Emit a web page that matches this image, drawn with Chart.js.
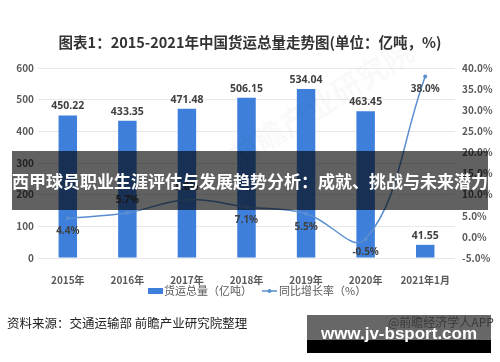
<!DOCTYPE html>
<html>
<head>
<meta charset="utf-8">
<script src="https://cdn.jsdelivr.net/npm/chart.js@4/dist/chart.umd.min.js"></script>
<style>
    html, body { margin: 0; padding: 0; background: #fff; }
    #wrap { position: relative; width: 500px; height: 362px; overflow: hidden; font-family: "Noto Sans CJK SC", "Noto Sans", sans-serif; }
    #chart { position: absolute; left: 0; top: 0; }
    .title { position: absolute; left: 0; width: 500px; top: 31px; text-align: center; font-size: 14.5px; font-weight: bold; color: #333; }
    .banner { position: absolute; left: 12px; top: 151px; width: 476px; height: 59px; background: rgba(0,0,0,0.62); }
    .banner span { position: absolute; left: 0; width: 476px; top: 18px; text-align: center; color: #fff; font-size: 17px; font-weight: bold; white-space: nowrap; line-height: 24px; }
    .source { position: absolute; left: 7px; top: 313px; font-size: 12.5px; color: #222; white-space: nowrap; }
    .wm-gray { position: absolute; left: 307px; top: 315px; width: 184px; height: 25px; background: #676767; }
    .wm-black { position: absolute; left: 307px; top: 340px; width: 184px; height: 13px; background: #000; }
    .wm-app { position: absolute; left: 388px; top: 313px; font-size: 12px; color: #3a3a3a; white-space: nowrap; }
    .wm-url { position: absolute; left: 307px; width: 184px; top: 322px; text-align: center; font-family: "Liberation Sans", sans-serif; font-size: 17px; font-weight: bold; color: #fff; white-space: nowrap; line-height: 24px; }
    .faint { position: absolute; left: 215px; top: 80px; font-size: 30px; font-weight: bold; color: rgba(0,0,0,0.025); transform: rotate(-32deg); white-space: nowrap; }
</style>
</head>
<body>
<div id="wrap">
    <canvas id="chart" width="500" height="362"></canvas>
    <div class="faint">前瞻产业研究院</div>
    <div class="title">图表1：2015-2021年中国货运总量走势图(单位：亿吨，%)</div>
    <div class="banner"><span>西甲球员职业生涯评估与发展趋势分析：成就、挑战与未来潜力</span></div>
    <div class="source">资料来源：交通运输部 前瞻产业研究院整理</div>
    <div class="wm-gray"></div>
    <div class="wm-black"></div>
    <div class="wm-app">@前瞻经济学人APP</div>
    <div class="wm-url">www.jv-bsport.com</div>
</div>
<script>
// ===== data =====
const years = ['2015年', '2016年', '2017年', '2018年', '2019年', '2020年', '2021年1月'];
const freight = [450.22, 433.35, 471.48, 506.15, 534.04, 463.45, 41.55];
const growth = [4.4, 5.7, 8.8, 7.1, 5.5, -0.5, 38.0];
const freightLabel = '货运总量（亿吨）';
const growthLabel = '同比增长率（%）';

// label side for each growth point (style only)
const growthLabelSide = ['below', 'above', 'above', 'below', 'below', 'below', 'below'];

const barColor = '#3d7fda';
const lineColor = '#5b8ed0';
const tickFont = { family: 'Noto Sans CJK SC', size: 10, weight: 'bold' };

// value labels on bars and line points
const valueLabels = {
    id: 'valueLabels',
    afterDatasetsDraw(chart) {
        const ctx = chart.ctx;
        ctx.save();
        ctx.textAlign = 'center';
        ctx.textBaseline = 'middle';
        ctx.fillStyle = '#404040';
        ctx.font = 'bold 10.5px "Noto Sans", sans-serif';
        chart.getDatasetMeta(0).data.forEach((bar, i) => {
            ctx.fillText(freight[i].toFixed(2), bar.x, bar.y - 9);
        });
        ctx.font = 'bold 10px "Noto Sans", sans-serif';
        chart.getDatasetMeta(1).data.forEach((pt, i) => {
            const dy = growthLabelSide[i] === 'above' ? -13 : 13;
            ctx.fillText(growth[i].toFixed(1) + '%', pt.x, pt.y + dy);
        });
        ctx.restore();
    }
};

// legend drawn under the axis
const bottomLegend = {
    id: 'bottomLegend',
    afterDraw(chart) {
        const ctx = chart.ctx;
        const ds = chart.data.datasets;
        const y = 291;
        ctx.save();
        ctx.font = '11px "Noto Sans CJK SC", sans-serif';
        ctx.textBaseline = 'middle';
        ctx.fillStyle = ds[0].backgroundColor;
        ctx.fillRect(148, y - 3, 15, 6);
        ctx.fillStyle = '#595959';
        ctx.fillText(ds[0].label, 164, y);
        ctx.strokeStyle = ds[1].borderColor;
        ctx.lineWidth = 1.5;
        ctx.beginPath();
        ctx.moveTo(262, y);
        ctx.lineTo(277, y);
        ctx.stroke();
        ctx.fillStyle = ds[1].borderColor;
        ctx.beginPath();
        ctx.arc(269.5, y, 2, 0, Math.PI * 2);
        ctx.fill();
        ctx.fillStyle = '#595959';
        ctx.fillText(ds[1].label, 279, y);
        ctx.restore();
    }
};

new Chart(document.getElementById('chart').getContext('2d'), {
    type: 'bar',
    data: {
        labels: years,
        datasets: [{
            label: freightLabel,
            data: freight,
            yAxisID: 'y',
            backgroundColor: barColor,
            barPercentage: 0.31,
            categoryPercentage: 1,
            order: 2
        }, {
            type: 'line',
            label: growthLabel,
            data: growth,
            yAxisID: 'y1',
            borderColor: lineColor,
            backgroundColor: lineColor,
            borderWidth: 1.5,
            pointRadius: 2,
            pointBackgroundColor: lineColor,
            pointBorderWidth: 0,
            tension: 0.4,
            order: 1
        }]
    },
    options: {
        responsive: false,
        animation: false,
        layout: { padding: { top: 68, left: 0, right: 0, bottom: 76 } },
        plugins: {
            legend: { display: false },
            tooltip: { enabled: false }
        },
        scales: {
            x: {
                grid: { display: false },
                border: { display: false },
                ticks: { color: '#595959', font: tickFont, padding: 8, maxRotation: 0 },
                afterFit: s => { s.height = 28; }
            },
            y: {
                position: 'left',
                min: 0,
                max: 600,
                ticks: { stepSize: 100, color: '#595959', font: tickFont, padding: 4 },
                grid: { color: '#e8e8e8', drawTicks: false },
                border: { display: false },
                afterFit: s => { s.width = 38; }
            },
            y1: {
                position: 'right',
                min: -5,
                max: 40,
                ticks: {
                    stepSize: 5,
                    color: '#595959',
                    font: tickFont,
                    padding: 7,
                    callback: v => v.toFixed(1) + '%'
                },
                grid: { display: false, drawTicks: false },
                border: { display: false },
                afterFit: s => { s.width = 45; }
            }
        }
    },
    plugins: [valueLabels, bottomLegend]
});
</script>
</body>
</html>
